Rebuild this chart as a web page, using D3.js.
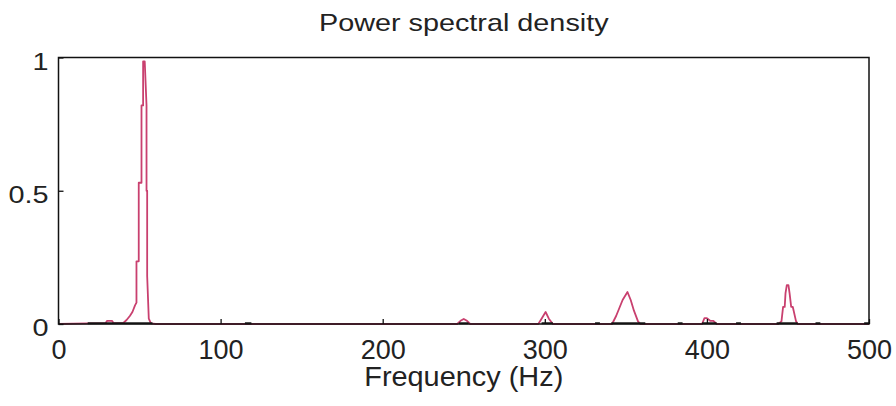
<!DOCTYPE html>
<html>
<head>
<meta charset="utf-8">
<script src="https://cdn.jsdelivr.net/npm/d3@7"></script>
<style>
  html, body { margin: 0; padding: 0; background: #fff; }
  svg { display: block; }
  text { font-family: "Liberation Sans", Arial, Helvetica, sans-serif; fill: #222; }
</style>
</head>
<body>
<svg id="chart" width="896" height="406"></svg>
<script>
// Power spectral density trace (normalised), frequency in Hz
const psdFreq  = [0, 18, 29, 30, 33, 34, 40, 42, 44, 45.6, 47.2, 48.1, 48.1, 49.5, 49.5, 51.2, 51.2, 52.2, 52.2, 53.2, 54.3, 54.3, 54.7, 54.7, 55.7, 57, 60,
                  246, 248, 250, 252, 254,
                  296, 298, 300.5, 302.5, 305,
                  341.5, 344, 346, 348, 351, 353, 355, 357.5, 359,
                  397, 398.5, 400, 402, 404, 406,
                  444, 446, 447, 448, 448.5, 449.3, 450.3, 451, 452, 453, 455, 456,
                  500];
const psdPower = [0, 0.002, 0.003, 0.012, 0.012, 0.003, 0.004, 0.015, 0.03, 0.045, 0.07, 0.08, 0.235, 0.235, 0.53, 0.53, 0.82, 0.82, 0.985, 0.985, 0.82, 0.5, 0.5, 0.18, 0.02, 0.002, 0,
                  0, 0.012, 0.019, 0.012, 0,
                  0, 0.02, 0.045, 0.02, 0,
                  0, 0.03, 0.06, 0.09, 0.12, 0.09, 0.05, 0.01, 0,
                  0, 0.022, 0.022, 0.012, 0.012, 0,
                  0, 0.01, 0.064, 0.064, 0.116, 0.146, 0.146, 0.116, 0.064, 0.064, 0.01, 0,
                  0];

// Second (reference) trace, only non-zero in short bands; NaN breaks the line
const refFreq  = [18, 58, NaN, 115, 119, NaN, 247, 253, NaN, 298, 305, NaN, 331, 334, NaN, 341, 362, NaN,
                  382, 385, NaN, 397, 406, NaN, 418, 421, NaN, 443, 456, NaN, 467, 470, NaN, 497, 500];
const refPower = [0.003, 0.003, NaN, 0.003, 0.003, NaN, 0.003, 0.003, NaN, 0.003, 0.003, NaN, 0.003, 0.003, NaN, 0.003, 0.003, NaN,
                  0.003, 0.003, NaN, 0.003, 0.003, NaN, 0.003, 0.003, NaN, 0.003, 0.003, NaN, 0.003, 0.003, NaN, 0.003, 0.003];

const xTicks = [0, 100, 200, 300, 400, 500];
const yTicks = [0, 0.5, 1];
const yTickLabels = ["0", "0.5", "1"];

const titleText = "Power spectral density";
const xLabelText = "Frequency (Hz)";

const svg = d3.select("#chart");
const margin = { left: 58.5, right: 896 - 869, top: 57.5, bottom: 406 - 324 };
const W = 896, H = 406;
const stretch = 1.2;  // horizontally widened lettering

const x = d3.scaleLinear().domain([0, 500]).range([margin.left, W - margin.right]);
const y = d3.scaleLinear().domain([0, 1]).range([H - margin.bottom, margin.top]);

// clip for the traces
svg.append("defs").append("clipPath").attr("id", "plotClip")
  .append("rect")
  .attr("x", x(0)).attr("y", y(1) - 2)
  .attr("width", x(500) - x(0)).attr("height", y(0) - y(1) + 4);

const line = d3.line()
  .defined(d => !isNaN(d[0]) && !isNaN(d[1]))
  .x(d => x(d[0]))
  .y(d => y(d[1]));

const psd = psdFreq.map((f, i) => [f, psdPower[i]]);
const ref = refFreq.map((f, i) => [f, refPower[i]]);

const plot = svg.append("g").attr("clip-path", "url(#plotClip)");

plot.append("path")
  .datum(psd)
  .attr("d", line)
  .attr("fill", "none")
  .attr("stroke", "#c9406f")
  .attr("stroke-width", 1.8)
  .attr("stroke-linejoin", "round");

plot.append("path")
  .datum(ref)
  .attr("d", line)
  .attr("fill", "none")
  .attr("stroke", "#1a1a1a")
  .attr("stroke-width", 2);

// axes: inward ticks on left and bottom
const xAxis = d3.axisBottom(x).tickValues(xTicks).tickFormat(d3.format("d"))
  .tickSizeInner(-5).tickSizeOuter(0);
const yAxis = d3.axisLeft(y).tickValues(yTicks).tickFormat((d, i) => yTickLabels[i])
  .tickSizeInner(-5).tickSizeOuter(0);

const gx = svg.append("g").attr("transform", `translate(0,${y(0)})`).call(xAxis);
const gy = svg.append("g").attr("transform", `translate(${x(0)},0)`).call(yAxis);

[gx, gy].forEach(g => {
  g.select(".domain").remove();
  g.selectAll(".tick line").attr("stroke", "#111").attr("stroke-width", 1.3);
  g.selectAll(".tick text")
    .attr("fill", "#222")
    .attr("font-family", "'Liberation Sans', Arial, sans-serif");
});

gx.selectAll(".tick text")
  .attr("font-size", 27)
  .attr("y", 0).attr("dy", null)
  .attr("transform", "translate(0,34.5)");

gy.selectAll(".tick text")
  .attr("font-size", 24)
  .attr("x", 0).attr("dy", null)
  .attr("text-anchor", "end")
  .attr("transform", `translate(-10,11.5) scale(${stretch},1)`);

// frame
svg.append("rect")
  .attr("x", x(0)).attr("y", y(1))
  .attr("width", x(500) - x(0)).attr("height", y(0) - y(1))
  .attr("fill", "none")
  .attr("stroke", "#111")
  .attr("stroke-width", 1.5);

// title and x label
svg.append("text")
  .attr("text-anchor", "middle")
  .attr("font-size", 24)
  .attr("transform", `translate(${(x(0) + x(500)) / 2},31) scale(${stretch},1)`)
  .text(titleText);

svg.append("text")
  .attr("text-anchor", "middle")
  .attr("font-size", 27)
  .attr("transform", `translate(${(x(0) + x(500)) / 2},386) scale(1.07,1)`)
  .text(xLabelText);
</script>
</body>
</html>
